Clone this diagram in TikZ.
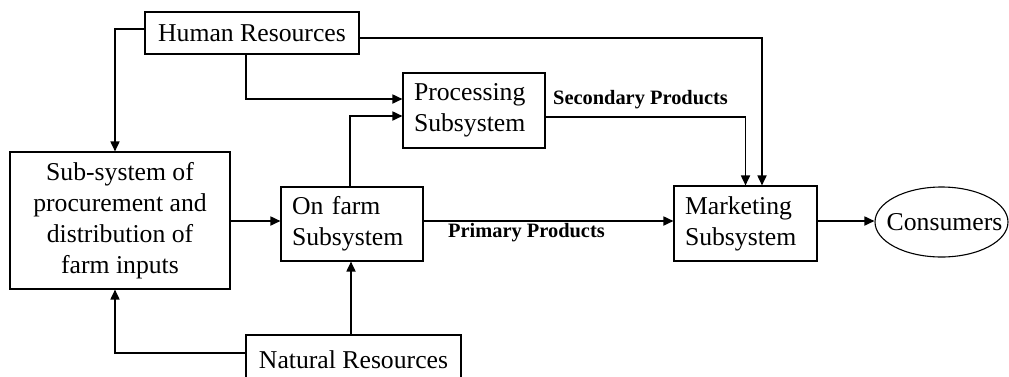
\documentclass[tikz,border=0pt]{standalone}
\usepackage{fontspec}
\setmainfont{Liberation Serif}
\usetikzlibrary{arrows.meta,shapes.geometric}
\begin{document}
\begin{tikzpicture}[x=1pt,y=-1pt,
  every node/.style={font=\fontsize{25.7}{30.8}\selectfont},
  box/.style={draw, line width=1.1pt, inner sep=0pt, align=center},
  lbox/.style={draw, line width=1.1pt, inner ysep=0pt, inner xsep=11pt, align=left},
  flow/.style={line width=1.7pt, -{Triangle[length=10pt,width=9pt]}},
  tag/.style={font=\fontsize{20.4}{24}\selectfont\bfseries, inner sep=0pt, anchor=west}]
  \useasboundingbox (0,0) rectangle (1009,376);
  \clip (0,0) rectangle (1009,376);

  % blocks
  \node[box, minimum width=214pt, minimum height=42pt] (hr) at (252,33) {Human Resources};
  \node[lbox, minimum width=142pt, minimum height=75pt, text width=120pt] (proc) at (474,110.5) {Processing\\Subsystem};
  \node[box, minimum width=220pt, minimum height=137pt] (sub) at (120,220.5)
    {Sub-system of\\procurement and\\distribution of\\farm inputs};
  \node[lbox, minimum width=142pt, minimum height=74pt, text width=120pt] (farm) at (352,224) {On farm\\Subsystem};
  \node[lbox, minimum width=143pt, minimum height=75pt, text width=121pt] (mkt) at (745.5,223.5) {Marketing\\Subsystem};
  \node[draw, ellipse, line width=1.1pt, inner sep=0pt, minimum width=133pt, minimum height=70pt] (cons) at (941.5,222) {};
  \node[inner sep=0pt] (consl) at ([xshift=3pt]cons.center) {Consumers};
  \node[box, minimum width=215pt, minimum height=50pt] (nr) at (353.5,360) {Natural Resources};

  % labels on flows
  \node[tag] (sec) at (553,100) {Secondary Products};
  \node[tag] (pri) at (448,233) {Primary Products};

  % human resources feeds
  \draw[flow] ([yshift=4pt]hr.west) -| ([xshift=-5pt]sub.north);
  \draw[flow] ([yshift=-5pt]hr.east) -| ([xshift=16.5pt]mkt.north);
  \draw[flow] ([xshift=-6pt]hr.south) |- ([yshift=11.5pt]proc.west);

  % farm flows
  \draw[flow] (sub.east |- 0,221) -- (farm.west |- 0,221);
  \draw[flow] ([xshift=-2pt]farm.north) |- ([yshift=-5.5pt]proc.west);
  \draw[flow] (farm.east |- 0,221) -- (mkt.west |- 0,221);
  \draw[flow] ([yshift=-6.5pt]proc.east) -| (mkt.north);
  \draw[flow] (mkt.east |- 0,221) -- (cons.west |- 0,221);

  % natural resources feeds
  \draw[flow] ([xshift=-2.5pt]nr.north) -- ([xshift=-2.5pt]nr.north |- farm.south);
  \draw[flow] ([yshift=7pt]nr.west) -| ([xshift=-5pt]sub.south);
\end{tikzpicture}
\end{document}
